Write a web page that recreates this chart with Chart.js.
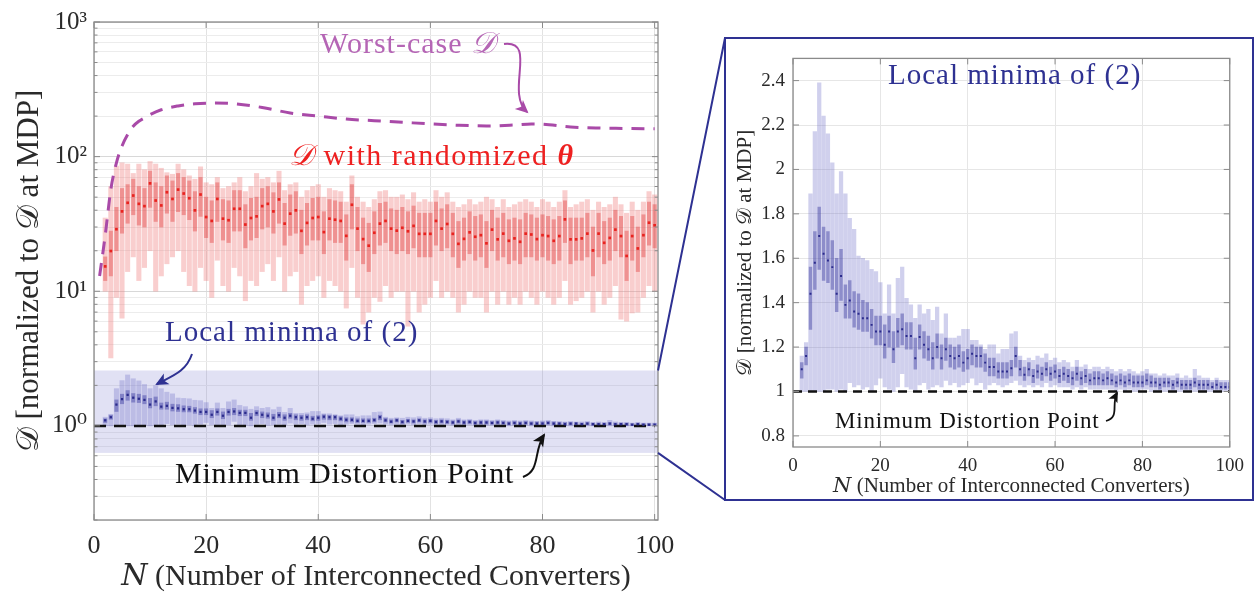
<!DOCTYPE html>
<html>
<head>
<meta charset="utf-8">
<script src="https://cdn.jsdelivr.net/npm/chart.js@4.4.0/dist/chart.umd.min.js"></script>
<style>
  html, body { margin: 0; padding: 0; background: #fff; }
  #wrap { position: relative; width: 1255px; height: 595px; overflow: hidden; }
  #left { position: absolute; left: 0; top: 0; }
  #zoomBox { position: absolute; left: 724px; top: 37px; width: 530px; height: 464px; border: 2px solid #2e3192; box-sizing: border-box; }
  #right { position: absolute; left: 0; top: 0; }
</style>
</head>
<body>
<div id="wrap">
  <canvas id="left" width="726" height="595"></canvas>
  <div id="zoomBox"><canvas id="right" width="526" height="460"></canvas></div>
</div>
<script>
const SERIF = "'Liberation Serif', 'DejaVu Serif', serif";

// N = 2 ... 100
const nValues = Array.from({ length: 99 }, (_, i) => i + 2);

// D with randomized theta (red), per N
const redMedian = [
  15.3, 19.9, 28.9, 39.2, 45.4, 51.4, 44.6, 42.9, 63.3, 47.2,
  43.4, 54.4, 48.5, 56.9, 53.2, 49.1, 39.9, 52.3, 35.6, 33.3,
  48.5, 34.6, 33.7, 41.0, 41.0, 31.3, 35.0, 36.0, 42.9, 44.6,
  39.2, 48.1, 31.8, 37.7, 39.9, 28.1, 32.2, 35.0, 35.6, 27.5,
  34.6, 34.0, 33.3, 25.8, 43.9, 29.2, 24.4, 21.8, 27.2, 31.8,
  33.3, 29.2, 28.2, 29.6, 27.9, 30.6, 26.7, 26.7, 26.7, 33.3,
  29.2, 31.6, 26.7, 22.5, 24.5, 27.4, 25.4, 26.1, 22.7, 28.7,
  24.3, 26.8, 23.7, 24.7, 23.3, 26.8, 26.4, 24.4, 26.1, 25.7,
  23.7, 25.7, 34.2, 24.3, 24.3, 24.7, 26.8, 20.1, 26.8, 22.9,
  24.9, 28.7, 25.7, 18.3, 25.7, 20.8, 26.1, 32.3, 30.9
];
const redQ3 = [
  18, 28, 42, 58, 62, 68, 60, 58, 78, 64,
  60, 72, 66, 75, 70, 66, 55, 70, 50, 47,
  64, 48, 47, 56, 56, 44, 49, 50, 58, 60,
  54, 64, 45, 52, 55, 40, 45, 49, 50, 39,
  48, 47, 46, 37, 62, 42, 35, 32, 39, 45,
  46, 41, 40, 42, 39, 43, 38, 38, 38, 46,
  41, 44, 38, 33, 35, 39, 36, 37, 33, 40,
  35, 38, 34, 35, 34, 38, 37, 35, 37, 36,
  34, 36, 47, 35, 35, 35, 38, 30, 38, 33,
  35, 40, 36, 28, 36, 30, 37, 46, 44
];
const redQ1 = [
  12, 13, 20, 27, 32, 37, 31, 30, 42, 33,
  30, 38, 33, 39, 37, 34, 28, 36, 25, 23,
  33, 24, 23, 28, 28, 21, 24, 25, 29, 30,
  27, 32, 22, 26, 27, 19, 22, 24, 24, 19,
  24, 23, 23, 17, 29, 20, 16, 14, 19, 22,
  23, 20, 19, 20, 19, 21, 18, 18, 18, 22,
  20, 21, 18, 15, 17, 19, 17, 18, 15, 20,
  17, 18, 16, 17, 16, 18, 18, 17, 18, 17,
  16, 17, 23, 16, 17, 17, 18, 13, 18, 16,
  17, 20, 18, 12, 17, 14, 18, 22, 21
];
const redMax = [
  35, 60, 85, 90, 88, 75, 88, 80, 92, 88,
  82, 76, 74, 88, 80, 72, 68, 84, 64, 62,
  70, 58, 60, 64, 70, 55, 60, 75, 68, 70,
  64, 78, 56, 62, 64, 50, 56, 60, 62, 50,
  58, 56, 55, 46, 72, 50, 46, 42, 48, 55,
  56, 50, 50, 52, 48, 54, 46, 48, 46, 56,
  50, 54, 46, 42, 44, 48, 44, 46, 50, 48,
  42, 48, 42, 44, 46, 48, 46, 42, 48, 46,
  42, 46, 56, 42, 44, 46, 48, 40, 46, 42,
  44, 50, 44, 38, 46, 40, 46, 55, 52
];
const redMin = [
  10, 3.2, 9, 6.3, 14, 18, 12, 15, 20, 10,
  13, 16, 18, 20, 14, 11, 10, 15, 12, 9,
  17, 11, 10, 15, 13, 8.5, 12, 11, 14, 16,
  12, 18, 10, 13, 14, 8, 11, 12, 13, 9,
  12, 11, 10, 7.5, 15, 9, 5.7, 7, 9, 8.4,
  11, 9, 10, 10, 5.5, 10, 7, 8, 9, 12,
  9, 10, 9, 7, 8, 10, 9, 9, 7, 10,
  8, 10, 8, 9, 8, 10, 9, 8, 10, 9,
  8, 9, 12, 8, 8.5, 9, 10, 7, 10, 8,
  9, 11, 6.2, 6, 6.9, 7, 9, 11, 10
];

// local minima of (2) (blue), per N
const blueMedian = [
  1.10, 1.16, 1.44, 1.58, 1.70, 1.62, 1.59, 1.56, 1.44, 1.52,
  1.39, 1.41, 1.36, 1.35, 1.33, 1.33, 1.30, 1.27, 1.27, 1.21,
  1.27, 1.19, 1.27, 1.28, 1.25, 1.25, 1.15, 1.245, 1.21, 1.19,
  1.15, 1.20, 1.15, 1.19, 1.16, 1.15, 1.16, 1.13, 1.15, 1.17,
  1.16, 1.16, 1.13, 1.11, 1.11, 1.09, 1.09, 1.09, 1.105, 1.16,
  1.10, 1.075, 1.10, 1.07, 1.09, 1.08, 1.10, 1.08, 1.09, 1.07,
  1.08, 1.07, 1.06, 1.08, 1.06, 1.07, 1.05, 1.06, 1.06, 1.05,
  1.06, 1.05, 1.04, 1.05, 1.04, 1.05, 1.04, 1.04, 1.04, 1.05,
  1.04, 1.04, 1.03, 1.04, 1.04, 1.03, 1.04, 1.03, 1.03, 1.03,
  1.04, 1.03, 1.03, 1.03, 1.02, 1.03, 1.02, 1.02, 1.02
];
const blueQ3 = [
  1.13, 1.20, 1.56, 1.72, 1.83, 1.74, 1.72, 1.68, 1.60, 1.64,
  1.48, 1.50, 1.45, 1.44, 1.41, 1.40, 1.37, 1.34, 1.34, 1.30,
  1.34, 1.27, 1.33, 1.35, 1.31, 1.31, 1.24, 1.30, 1.27, 1.25,
  1.22, 1.26, 1.21, 1.24, 1.21, 1.20, 1.21, 1.18, 1.19, 1.21,
  1.20, 1.20, 1.17, 1.15, 1.15, 1.13, 1.13, 1.13, 1.14, 1.20,
  1.14, 1.11, 1.13, 1.10, 1.12, 1.11, 1.13, 1.11, 1.12, 1.10,
  1.11, 1.10, 1.09, 1.11, 1.09, 1.10, 1.08, 1.09, 1.09, 1.08,
  1.09, 1.08, 1.07, 1.08, 1.07, 1.08, 1.07, 1.07, 1.07, 1.08,
  1.07, 1.06, 1.06, 1.06, 1.06, 1.05, 1.06, 1.05, 1.05, 1.05,
  1.06, 1.05, 1.05, 1.05, 1.04, 1.05, 1.04, 1.04, 1.04
];
const blueQ1 = [
  1.06, 1.12, 1.28, 1.46, 1.55, 1.50, 1.49, 1.46, 1.36, 1.41,
  1.33, 1.33, 1.29, 1.28, 1.27, 1.27, 1.24, 1.21, 1.21, 1.15,
  1.20, 1.13, 1.20, 1.21, 1.19, 1.19, 1.10, 1.19, 1.15, 1.14,
  1.10, 1.15, 1.10, 1.14, 1.11, 1.10, 1.11, 1.09, 1.10, 1.12,
  1.11, 1.11, 1.09, 1.07, 1.07, 1.06, 1.06, 1.06, 1.07, 1.11,
  1.07, 1.05, 1.07, 1.04, 1.06, 1.05, 1.07, 1.05, 1.06, 1.04,
  1.05, 1.04, 1.03, 1.05, 1.03, 1.04, 1.03, 1.03, 1.03, 1.03,
  1.03, 1.03, 1.02, 1.03, 1.02, 1.03, 1.02, 1.02, 1.02, 1.03,
  1.02, 1.02, 1.01, 1.02, 1.02, 1.01, 1.02, 1.01, 1.01, 1.01,
  1.02, 1.01, 1.01, 1.01, 1.01, 1.01, 1.01, 1.01, 1.01
];
const blueMax = [
  1.16, 1.22, 1.89, 2.17, 2.39, 2.24, 2.16, 2.03, 1.89, 1.99,
  1.89, 1.78, 1.73, 1.61, 1.60, 1.59, 1.55, 1.54, 1.49, 1.35,
  1.48, 1.35, 1.51, 1.56, 1.42, 1.39, 1.33, 1.39, 1.35, 1.37,
  1.32, 1.38, 1.26, 1.35, 1.24, 1.24, 1.25, 1.28, 1.28, 1.23,
  1.23, 1.21, 1.19, 1.21, 1.21, 1.17, 1.19, 1.19, 1.26, 1.27,
  1.16, 1.14, 1.15, 1.14, 1.16, 1.15, 1.17, 1.14, 1.15, 1.13,
  1.14, 1.13, 1.11, 1.14, 1.11, 1.12, 1.10, 1.11, 1.11, 1.10,
  1.11, 1.10, 1.09, 1.10, 1.09, 1.10, 1.09, 1.08, 1.09, 1.10,
  1.08, 1.08, 1.07, 1.08, 1.07, 1.07, 1.08, 1.06, 1.07, 1.06,
  1.10, 1.07, 1.06, 1.06, 1.05, 1.06, 1.05, 1.05, 1.05
];
const blueMin = [
  1.00, 1.00, 1.00, 1.00, 1.00, 1.00, 1.01, 1.01, 1.00, 1.01,
  1.00, 1.04, 1.02, 1.03, 1.01, 1.02, 1.00, 1.03, 1.06, 1.02,
  1.01, 1.00, 1.02, 1.08, 1.02, 1.01, 1.00, 1.03, 1.04, 1.01,
  1.02, 1.03, 1.02, 1.05, 1.03, 1.04, 1.02, 1.03, 1.04, 1.06,
  1.03, 1.04, 1.01, 1.03, 1.04, 1.03, 1.02, 1.03, 1.04, 1.05,
  1.03, 1.02, 1.03, 1.02, 1.03, 1.02, 1.04, 1.02, 1.03, 1.02,
  1.02, 1.02, 1.01, 1.02, 1.01, 1.02, 1.01, 1.01, 1.01, 1.01,
  1.01, 1.01, 1.00, 1.01, 1.00, 1.01, 1.00, 1.00, 1.01, 1.01,
  1.00, 1.00, 1.00, 1.00, 1.00, 1.00, 1.00, 1.00, 1.00, 1.00,
  1.00, 1.00, 1.00, 1.00, 1.00, 1.00, 1.00, 1.00, 1.00
];

// worst-case D (purple dashed)
const worstN = [1, 2, 3, 4, 5, 6, 7, 8, 9, 10, 12, 15, 18, 21, 25, 30, 35, 40, 45, 50, 55, 60, 65, 70, 75, 78, 80, 85, 90, 95, 100];
const worstValue = [13, 26, 57, 90, 120, 146, 168, 183, 194, 205, 223, 238, 247, 250, 247, 232, 211, 200, 190, 185, 180, 175, 171, 169, 172, 175, 174, 166, 163, 162, 161];

// minimum distortion point reference and zoomed band
const mdpLine = [{ x: 0, y: 1 }, { x: 100, y: 1 }];
const zoomBand = [0.63, 2.58];

// ticks
const xTicks = [0, 20, 40, 60, 80, 100];
const leftYMajor = [1, 10, 100, 1000];
const leftYLabels = ['10\u2070', '10\u00B9', '10\u00B2', '10\u00B3'];
const leftYGrid = [0.1, 1, 10, 100].flatMap(d => [1, 2, 3, 4, 5, 6, 7, 8, 9].map(m => +(m * d).toPrecision(3))).filter(v => v >= 0.2 && v <= 1000).concat([1000]);
const rightYTicks = [0.8, 1, 1.2, 1.4, 1.6, 1.8, 2, 2.2, 2.4];

function boxSets(mins, q1s, q3s, maxs, meds, c, w) {
  return [
    { type: 'bar', data: nValues.map((n, i) => ({ x: n, y: [mins[i], maxs[i]] })), backgroundColor: c.outer, barThickness: w.outer, grouped: false, order: 6 },
    { type: 'bar', data: nValues.map((n, i) => ({ x: n, y: [q1s[i], q3s[i]] })), backgroundColor: c.inner, barThickness: w.inner, grouped: false, order: 5 },
    { type: 'scatter', data: nValues.map((n, i) => ({ x: n, y: meds[i] })), pointStyle: 'rect', pointRadius: w.dot, backgroundColor: c.dot, borderWidth: 0, order: 3 }
  ];
}

const redColors = { outer: 'rgba(238,120,120,0.36)', inner: 'rgba(225,60,60,0.42)', dot: '#e8231f' };
const blueColors = { outer: 'rgba(110,110,200,0.32)', inner: 'rgba(60,60,160,0.45)', dot: '#2b2b8c' };

function drawRich(ctx, x, y, parts, color, spacing) {
  ctx.save();
  ctx.fillStyle = color;
  ctx.textBaseline = 'middle';
  ctx.textAlign = 'left';
  ctx.letterSpacing = (spacing || 0) + 'px';
  parts.forEach(p => {
    ctx.font = p[1];
    ctx.fillText(p[0], x, y);
    x += ctx.measureText(p[0]).width;
  });
  ctx.restore();
}

function drawArrow(ctx, p, color, lw, head) {
  ctx.save();
  ctx.strokeStyle = color;
  ctx.fillStyle = color;
  ctx.lineWidth = lw;
  ctx.beginPath();
  ctx.moveTo(p[0], p[1]);
  ctx.bezierCurveTo(p[2], p[3], p[4], p[5], p[6], p[7]);
  ctx.stroke();
  const ang = Math.atan2(p[7] - p[5], p[6] - p[4]);
  ctx.translate(p[6], p[7]);
  ctx.rotate(ang);
  ctx.beginPath();
  ctx.moveTo(2, 0);
  ctx.lineTo(-head, -head * 0.55);
  ctx.lineTo(-head * 0.7, 0);
  ctx.lineTo(-head, head * 0.55);
  ctx.closePath();
  ctx.fill();
  ctx.restore();
}

// box around the plot with small inward ticks, like the original figure
const framePlugin = {
  id: 'frame',
  afterDatasetsDraw(chart) {
    const { ctx, chartArea: a, scales } = chart;
    ctx.save();
    ctx.strokeStyle = '#8a8a8a';
    ctx.lineWidth = 1.3;
    ctx.strokeRect(a.left, a.top, a.right - a.left, a.bottom - a.top);
    ctx.lineWidth = 1;
    ctx.beginPath();
    scales.y.ticks.forEach(t => {
      const y = scales.y.getPixelForValue(t.value);
      const len = t.label ? 6 : 3.5;
      ctx.moveTo(a.left, y); ctx.lineTo(a.left + len, y);
      ctx.moveTo(a.right, y); ctx.lineTo(a.right - len, y);
    });
    scales.x.ticks.forEach(t => {
      const x = scales.x.getPixelForValue(t.value);
      ctx.moveTo(x, a.bottom); ctx.lineTo(x, a.bottom - 6);
      ctx.moveTo(x, a.top); ctx.lineTo(x, a.top + 6);
    });
    ctx.stroke();
    ctx.restore();
  }
};

const shadePlugin = {
  id: 'shade',
  beforeDatasetsDraw(chart) {
    const { ctx, chartArea: a, scales } = chart;
    const yTop = scales.y.getPixelForValue(zoomBand[1]);
    const yBot = scales.y.getPixelForValue(zoomBand[0]);
    ctx.save();
    ctx.fillStyle = 'rgba(130,130,210,0.24)';
    ctx.fillRect(a.left, yTop, a.right - a.left, yBot - yTop);
    ctx.restore();
  },
  afterDraw(chart) {
    const { ctx, chartArea: a, scales } = chart;
    const yTop = scales.y.getPixelForValue(zoomBand[1]);
    const yBot = scales.y.getPixelForValue(zoomBand[0]);
    ctx.save();
    ctx.strokeStyle = '#2e3192';
    ctx.lineWidth = 2;
    ctx.beginPath();
    ctx.moveTo(a.right, yTop); ctx.lineTo(725, 38);
    ctx.moveTo(a.right, yBot); ctx.lineTo(725, 500);
    ctx.stroke();
    ctx.restore();
  }
};

const leftNotes = {
  id: 'leftNotes',
  afterDraw(chart) {
    const ctx = chart.ctx;
    drawRich(ctx, 320, 45, [['Worst-case ', '30px ' + SERIF], ['\uD835\uDC9F', 'italic 30px ' + SERIF]], '#b565b5', 1);
    drawArrow(ctx, [504, 44, 538, 40, 505, 92, 527, 112], '#a94aa8', 2, 11);
    drawRich(ctx, 289, 157, [['\uD835\uDC9F', 'italic 30px ' + SERIF], [' with randomized ', '30px ' + SERIF], ['\u03B8', 'bold italic 30px ' + SERIF]], '#ee2020', 1.5);
    drawRich(ctx, 165, 333, [['Local minima of (2)', '29px ' + SERIF]], '#2e3192', 1);
    drawArrow(ctx, [192, 354, 186, 372, 172, 376, 157, 384], '#2e3192', 2, 11);
    drawRich(ctx, 175, 475, [['Minimum Distortion Point', '30px ' + SERIF]], '#111', 0.8);
    drawArrow(ctx, [523, 477, 541, 470, 533, 452, 544, 435], '#111', 2, 11);
  }
};

const rightNotes = {
  id: 'rightNotes',
  afterDraw(chart) {
    const ctx = chart.ctx;
    drawRich(ctx, 162, 37, [['Local minima of (2)', '29px ' + SERIF]], '#2e3192', 1);
    drawRich(ctx, 109, 383, [['Minimum Distortion Point', '23px ' + SERIF]], '#111', 0.8);
    drawArrow(ctx, [380, 382, 394, 378, 385, 366, 391, 354], '#111', 1.8, 9);
  }
};

const leftChart = new Chart(document.getElementById('left'), {
  type: 'bar',
  data: {
    datasets: [
      ...boxSets(redMin, redQ1, redQ3, redMax, redMedian, redColors, { outer: 4.4, inner: 3.4, dot: 1.9 }),
      ...boxSets(blueMin, blueQ1, blueQ3, blueMax, blueMedian, blueColors, { outer: 4.4, inner: 3.4, dot: 1.6 }),
      { type: 'line', data: worstN.map((n, i) => ({ x: n, y: worstValue[i] })), borderColor: '#a94aa8', borderWidth: 3, borderDash: [13, 9], pointRadius: 0, cubicInterpolationMode: 'monotone', fill: false, order: 1 },
      { type: 'line', data: mdpLine, borderColor: '#111', borderWidth: 2.5, borderDash: [12, 8], pointRadius: 0, fill: false, order: 4 }
    ]
  },
  options: {
    responsive: false,
    animation: false,
    devicePixelRatio: 1,
    events: [],
    layout: { padding: { top: 17, right: 68, left: 0, bottom: 0 } },
    plugins: { legend: { display: false }, tooltip: { enabled: false } },
    scales: {
      x: {
        type: 'linear', min: 0, max: 100.6, offset: false,
        afterBuildTicks: s => { s.ticks = xTicks.map(v => ({ value: v })); },
        afterFit: s => { s.height = 75; },
        grid: { color: '#e2e2e2', drawTicks: false, offset: false },
        border: { display: false },
        ticks: { padding: 11, maxRotation: 0, color: '#2a2a2a', font: { family: SERIF, size: 26 } },
        title: { display: true, text: '\uD835\uDC41 (Number of Interconnected Converters)', color: '#2a2a2a', font: { family: SERIF, size: 30 }, padding: { top: 0, bottom: 0 } }
      },
      y: {
        type: 'logarithmic', min: 0.2, max: 1000,
        afterBuildTicks: s => { s.ticks = leftYGrid.map(v => ({ value: v })); },
        afterFit: s => { s.width = 94; },
        grid: { color: c => leftYMajor.includes(c.tick && c.tick.value) ? '#d8d8d8' : '#ececec', drawTicks: false },
        border: { display: false },
        ticks: {
          autoSkip: false, padding: 7, color: '#2a2a2a', font: { family: SERIF, size: 25 },
          callback: v => { const k = leftYMajor.indexOf(v); return k >= 0 ? leftYLabels[k] : ''; }
        },
        title: { display: true, text: '\uD835\uDC9F [normalized to \uD835\uDC9F at MDP]', color: '#2a2a2a', font: { family: SERIF, size: 31 }, padding: { top: 11, bottom: 0 } }
      }
    }
  },
  plugins: [shadePlugin, framePlugin, leftNotes]
});

const rightChart = new Chart(document.getElementById('right'), {
  type: 'bar',
  data: {
    datasets: [
      ...boxSets(blueMin, blueQ1, blueQ3, blueMax, blueMedian, blueColors, { outer: 3.6, inner: 2.8, dot: 1.4 }),
      { type: 'line', data: mdpLine, borderColor: '#111', borderWidth: 2.5, borderDash: [9, 6], pointRadius: 0, fill: false, order: 4 }
    ]
  },
  options: {
    responsive: false,
    animation: false,
    devicePixelRatio: 1,
    events: [],
    layout: { padding: { top: 9, right: 18, left: 0, bottom: 0 } },
    plugins: { legend: { display: false }, tooltip: { enabled: false } },
    scales: {
      x: {
        type: 'linear', min: 0, max: 100, offset: false,
        afterBuildTicks: s => { s.ticks = xTicks.map(v => ({ value: v })); },
        afterFit: s => { s.height = 52; },
        grid: { color: '#e6e6e6', drawTicks: false, offset: false },
        border: { display: false },
        ticks: { padding: 8, maxRotation: 0, color: '#2a2a2a', font: { family: SERIF, size: 19 } },
        title: { display: true, text: '\uD835\uDC41 (Number of Interconnected Converters)', color: '#2a2a2a', font: { family: SERIF, size: 21 }, padding: { top: 0, bottom: 0 } }
      },
      y: {
        type: 'linear', min: 0.75, max: 2.5,
        afterBuildTicks: s => { s.ticks = rightYTicks.map(v => ({ value: v })); },
        afterFit: s => { s.width = 67; },
        grid: { color: '#e6e6e6', drawTicks: false },
        border: { display: false },
        ticks: { autoSkip: false, padding: 8, color: '#2a2a2a', font: { family: SERIF, size: 19 }, callback: v => String(v) },
        title: { display: true, text: '\uD835\uDC9F [normalized to \uD835\uDC9F at MDP]', color: '#2a2a2a', font: { family: SERIF, size: 21 }, padding: { top: 7, bottom: 0 } }
      }
    }
  },
  plugins: [framePlugin, rightNotes]
});
</script>
</body>
</html>
